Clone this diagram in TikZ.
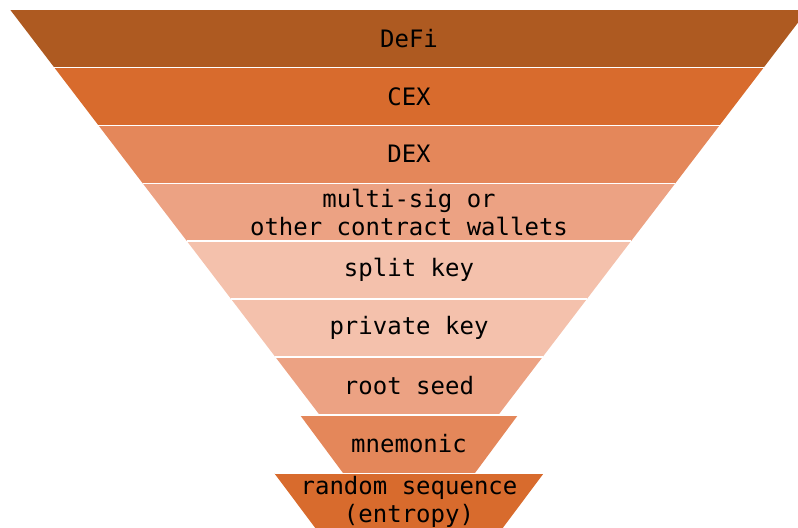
\documentclass[tikz,border=0pt]{standalone}
\usepackage{fontspec}
\setmonofont{DejaVu Sans Mono}
\definecolor{cDeFi}{HTML}{AE5A21}
\definecolor{cCEX}{HTML}{D86B2D}
\definecolor{cDEX}{HTML}{E4875A}
\definecolor{cMulti}{HTML}{ECA283}
\definecolor{cKey}{HTML}{F4C1AC}
\newcommand\fband[7]{%
  \fill[#6] ({409-#4},#2) -- ({409+#4},#2) -- ({409+#5},#3) -- ({409-#5},#3) -- cycle;
  \draw[white, line width=1.2bp] ({409-#4},#2) -- ({409+#4},#2);
  \node[lbl] (#1) at (409,{(#2+#3)/2}) {#7};
}
\begin{document}
\begin{tikzpicture}[x=1bp,y=-1bp,
  lbl/.style={font=\ttfamily\fontsize{24bp}{28bp}\selectfont, align=center, text=black, inner sep=0pt}]
\path[use as bounding box] (0,0) rectangle (798,528);
\clip (0,0) rectangle (798,528);
\fband{defi}{9.5}{67.4}{399}{354.8}{cDeFi}{DeFi}
\fband{cex}{67.4}{125.3}{354.8}{310.6}{cCEX}{CEX}
\fband{dex}{125.3}{183.2}{310.6}{266.4}{cDEX}{DEX}
\fband{multi}{183.2}{241.1}{266.4}{222.1}{cMulti}{multi-sig or\\other contract wallets}
\fband{split}{241.1}{299}{222.1}{177.9}{cKey}{split key}
\fband{priv}{299}{356.9}{177.9}{133.7}{cKey}{private key}
\fband{root}{356.9}{414.8}{133.7}{89.5}{cMulti}{root seed}
\fband{mnem}{415}{473}{109}{66}{cDEX}{mnemonic}
\fband{rand}{473.5}{531}{134.5}{91.5}{cCEX}{random sequence\\(entropy)}
\end{tikzpicture}
\end{document}
